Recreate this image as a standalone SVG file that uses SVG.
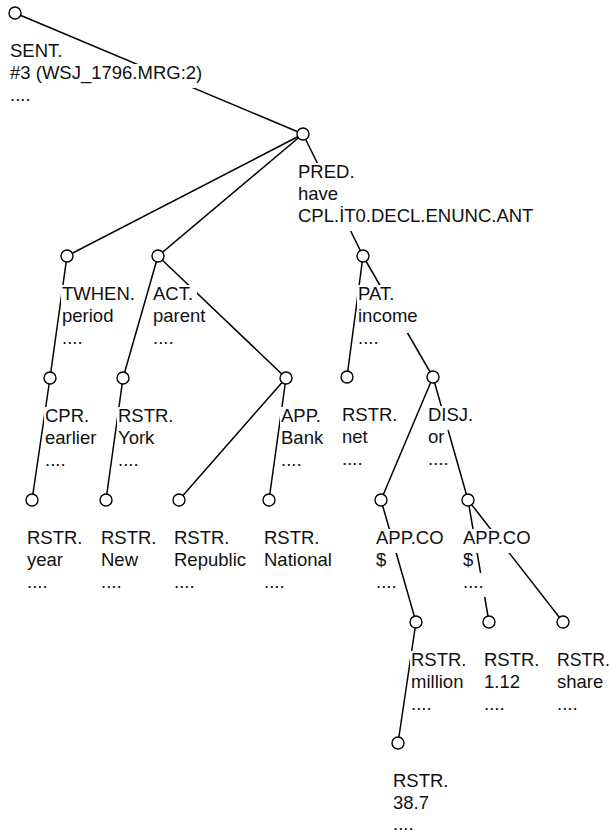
<svg xmlns="http://www.w3.org/2000/svg" width="611" height="832" viewBox="0 0 611 832">
<style>
.e{stroke:#000;stroke-width:1.5;fill:none}
.n{fill:#fff;stroke:#000;stroke-width:1.4}
.bg{fill:#fff}
text{font-family:"Liberation Sans",Arial,sans-serif;font-size:18.5px;fill:#111}
</style>
<rect width="611" height="832" fill="#fff"/>
<g id="connectors">
<line class="e" x1="15" y1="13" x2="303" y2="134"/>
<line class="e" x1="303" y1="134" x2="67" y2="256"/>
<line class="e" x1="303" y1="134" x2="158" y2="256"/>
<line class="e" x1="303" y1="134" x2="363" y2="256"/>
<line class="e" x1="67" y1="256" x2="50" y2="378"/>
<line class="e" x1="50" y1="378" x2="32" y2="500"/>
<line class="e" x1="158" y1="256" x2="123" y2="378"/>
<line class="e" x1="123" y1="378" x2="106" y2="500"/>
<line class="e" x1="158" y1="256" x2="286" y2="378"/>
<line class="e" x1="286" y1="378" x2="179" y2="500"/>
<line class="e" x1="286" y1="378" x2="269" y2="500"/>
<line class="e" x1="363" y1="256" x2="347" y2="377"/>
<line class="e" x1="363" y1="256" x2="433" y2="377"/>
<line class="e" x1="433" y1="377" x2="381" y2="500"/>
<line class="e" x1="433" y1="377" x2="468" y2="500"/>
<line class="e" x1="381" y1="500" x2="416" y2="622"/>
<line class="e" x1="416" y1="622" x2="398" y2="743"/>
<line class="e" x1="468" y1="500" x2="489" y2="622"/>
<line class="e" x1="468" y1="500" x2="563" y2="622"/>
</g>
<g id="n-sent">
<rect class="bg" x="9" y="42" width="58" height="24"/><rect class="bg" x="9" y="64" width="196" height="24"/><rect class="bg" x="9" y="86" width="24" height="24"/>
<circle class="n" cx="15" cy="13" r="6"/>
<text x="10" y="57">SENT.</text><text x="10" y="79">#3 (WSJ_1796.MRG:2)</text><text x="10" y="101">....</text>
</g>
<g id="n-pred">
<rect class="bg" x="297" y="163" width="60" height="24"/><rect class="bg" x="297" y="185" width="44" height="24"/><rect class="bg" x="297" y="207" width="239" height="24"/>
<circle class="n" cx="303" cy="134" r="6"/>
<text x="298" y="178">PRED.</text><text x="298" y="200">have</text><text x="298" y="222">CPL.İT0.DECL.ENUNC.ANT</text>
</g>
<g id="n-twhen">
<rect class="bg" x="61" y="285" width="76" height="24"/><rect class="bg" x="61" y="307" width="55" height="24"/><rect class="bg" x="61" y="329" width="24" height="24"/>
<circle class="n" cx="67" cy="256" r="6"/>
<text x="62" y="300">TWHEN.</text><text x="62" y="322">period</text><text x="62" y="344">....</text>
</g>
<g id="n-act">
<rect class="bg" x="152" y="285" width="45" height="24"/><rect class="bg" x="152" y="307" width="56" height="24"/><rect class="bg" x="152" y="329" width="24" height="24"/>
<circle class="n" cx="158" cy="256" r="6"/>
<text x="153" y="300">ACT.</text><text x="153" y="322">parent</text><text x="153" y="344">....</text>
</g>
<g id="n-pat">
<rect class="bg" x="357" y="285" width="44" height="24"/><rect class="bg" x="357" y="307" width="63" height="26"/><rect class="bg" x="357" y="329" width="24" height="24"/>
<circle class="n" cx="363" cy="256" r="6"/>
<text x="358" y="300">PAT.</text><text x="358" y="322">income</text><text x="358" y="344">....</text>
</g>
<g id="n-cpr">
<rect class="bg" x="44" y="407" width="47" height="24"/><rect class="bg" x="44" y="429" width="55" height="24"/><rect class="bg" x="44" y="451" width="24" height="24"/>
<circle class="n" cx="50" cy="378" r="6"/>
<text x="45" y="422">CPR.</text><text x="45" y="444">earlier</text><text x="45" y="466">....</text>
</g>
<g id="n-york">
<rect class="bg" x="117" y="407" width="59" height="24"/><rect class="bg" x="117" y="429" width="41" height="24"/><rect class="bg" x="117" y="451" width="24" height="24"/>
<circle class="n" cx="123" cy="378" r="6"/>
<text x="118" y="422">RSTR.</text><text x="118" y="444">York</text><text x="118" y="466">....</text>
</g>
<g id="n-bank">
<rect class="bg" x="280" y="407" width="45" height="24"/><rect class="bg" x="280" y="429" width="45" height="24"/><rect class="bg" x="280" y="451" width="24" height="24"/>
<circle class="n" cx="286" cy="378" r="6"/>
<text x="281" y="422">APP.</text><text x="281" y="444">Bank</text><text x="281" y="466">....</text>
</g>
<g id="n-net">
<rect class="bg" x="341" y="406" width="59" height="24"/><rect class="bg" x="341" y="428" width="29" height="24"/><rect class="bg" x="341" y="450" width="24" height="24"/>
<circle class="n" cx="347" cy="377" r="6"/>
<text x="342" y="421">RSTR.</text><text x="342" y="443">net</text><text x="342" y="465">....</text>
</g>
<g id="n-disj">
<rect class="bg" x="427" y="406" width="48" height="24"/><rect class="bg" x="427" y="428" width="20" height="24"/><rect class="bg" x="427" y="450" width="24" height="24"/>
<circle class="n" cx="433" cy="377" r="6"/>
<text x="428" y="421">DISJ.</text><text x="428" y="443">or</text><text x="428" y="465">....</text>
</g>
<g id="n-year">
<rect class="bg" x="26" y="529" width="59" height="24"/><rect class="bg" x="26" y="551" width="39" height="24"/><rect class="bg" x="26" y="573" width="24" height="24"/>
<circle class="n" cx="32" cy="500" r="6"/>
<text x="27" y="544">RSTR.</text><text x="27" y="566">year</text><text x="27" y="588">....</text>
</g>
<g id="n-new">
<rect class="bg" x="100" y="529" width="59" height="24"/><rect class="bg" x="100" y="551" width="40" height="24"/><rect class="bg" x="100" y="573" width="24" height="24"/>
<circle class="n" cx="106" cy="500" r="6"/>
<text x="101" y="544">RSTR.</text><text x="101" y="566">New</text><text x="101" y="588">....</text>
</g>
<g id="n-republic">
<rect class="bg" x="173" y="529" width="59" height="24"/><rect class="bg" x="173" y="551" width="75" height="24"/><rect class="bg" x="173" y="573" width="24" height="24"/>
<circle class="n" cx="179" cy="500" r="6"/>
<text x="174" y="544">RSTR.</text><text x="174" y="566">Republic</text><text x="174" y="588">....</text>
</g>
<g id="n-national">
<rect class="bg" x="263" y="529" width="59" height="24"/><rect class="bg" x="263" y="551" width="71" height="24"/><rect class="bg" x="263" y="573" width="24" height="24"/>
<circle class="n" cx="269" cy="500" r="6"/>
<text x="264" y="544">RSTR.</text><text x="264" y="566">National</text><text x="264" y="588">....</text>
</g>
<g id="n-appco1">
<rect class="bg" x="375" y="529" width="73" height="24"/><rect class="bg" x="375" y="551" width="14" height="24"/><rect class="bg" x="375" y="573" width="24" height="24"/>
<circle class="n" cx="381" cy="500" r="6"/>
<text x="376" y="544">APP.CO</text><text x="376" y="566">$</text><text x="376" y="588">....</text>
</g>
<g id="n-appco2">
<rect class="bg" x="462" y="529" width="73" height="24"/><rect class="bg" x="462" y="551" width="14" height="24"/><rect class="bg" x="462" y="573" width="24" height="24"/>
<circle class="n" cx="468" cy="500" r="6"/>
<text x="463" y="544">APP.CO</text><text x="463" y="566">$</text><text x="463" y="588">....</text>
</g>
<g id="n-million">
<rect class="bg" x="410" y="651" width="59" height="24"/><rect class="bg" x="410" y="673" width="56" height="24"/><rect class="bg" x="410" y="695" width="24" height="24"/>
<circle class="n" cx="416" cy="622" r="6"/>
<text x="411" y="666">RSTR.</text><text x="411" y="688">million</text><text x="411" y="710">....</text>
</g>
<g id="n-112">
<rect class="bg" x="483" y="651" width="59" height="24"/><rect class="bg" x="483" y="673" width="39" height="24"/><rect class="bg" x="483" y="695" width="24" height="24"/>
<circle class="n" cx="489" cy="622" r="6"/>
<text x="484" y="666">RSTR.</text><text x="484" y="688">1.12</text><text x="484" y="710">....</text>
</g>
<g id="n-share">
<rect class="bg" x="556" y="651" width="55" height="24"/><rect class="bg" x="556" y="673" width="50" height="24"/><rect class="bg" x="556" y="695" width="24" height="24"/>
<circle class="n" cx="563" cy="622" r="6"/>
<text x="557" y="666" textLength="53" lengthAdjust="spacingAndGlyphs">RSTR.</text><text x="557" y="688">share</text><text x="557" y="710">....</text>
</g>
<g id="n-387">
<rect class="bg" x="392" y="772" width="59" height="24"/><rect class="bg" x="392" y="794" width="39" height="24"/><rect class="bg" x="392" y="816" width="24" height="16"/>
<circle class="n" cx="398" cy="743" r="6"/>
<text x="393" y="787">RSTR.</text><text x="393" y="809">38.7</text><text x="393" y="830">....</text>
</g>
</svg>
